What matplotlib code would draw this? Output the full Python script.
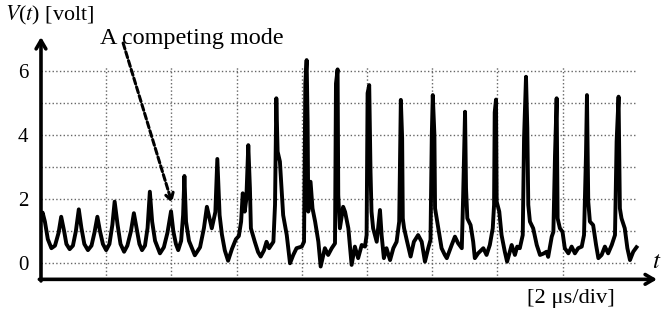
import matplotlib.pyplot as plt

plt.rcParams['font.family'] = ['Liberation Serif', 'DejaVu Serif']
plt.rcParams['mathtext.fontset'] = 'stix'

# time in microseconds (2 us per division), voltage in volts
t_us = [0.00, 0.05, 0.12, 0.21, 0.32, 0.43, 0.54, 0.62, 0.71, 0.78,
        0.88, 0.98, 1.07, 1.16, 1.24, 1.33, 1.44, 1.55, 1.64, 1.73,
        1.81, 1.90, 2.00, 2.10, 2.19, 2.26, 2.35, 2.44, 2.55, 2.65,
        2.76, 2.85, 2.95, 3.02, 3.10, 3.19, 3.27, 3.34, 3.41, 3.50,
        3.65, 3.77, 3.88, 3.99, 4.06, 4.14, 4.21, 4.30, 4.36, 4.40,
        4.45, 4.54, 4.72, 4.88, 5.00, 5.09, 5.24, 5.35, 5.41, 5.48,
        5.55, 5.64, 5.74, 5.86, 5.98, 6.07, 6.14, 6.19, 6.25, 6.30,
        6.36, 6.41, 6.44, 6.56, 6.66, 6.74, 6.84, 6.92, 7.00, 7.13,
        7.18, 7.22, 7.26, 7.33, 7.38, 7.43, 7.54, 7.64, 7.74, 7.84,
        8.00, 8.07, 8.11, 8.15, 8.18, 8.20, 8.27, 8.33, 8.41, 8.51,
        8.58, 8.71, 8.81, 8.92, 9.02, 9.05, 9.10, 9.12, 9.17, 9.27,
        9.33, 9.43, 9.53, 9.63, 9.73, 9.84, 9.94, 9.99, 10.02, 10.07,
        10.11, 10.14, 10.19, 10.30, 10.40, 10.45, 10.52, 10.60, 10.71, 10.81,
        10.91, 10.99, 11.02, 11.04, 11.08, 11.10, 11.14, 11.22, 11.34, 11.44,
        11.57, 11.68, 11.78, 11.88, 11.95, 11.99, 12.02, 12.07, 12.09, 12.19,
        12.29, 12.39, 12.45, 12.60, 12.70, 12.80, 12.91, 12.95, 13.01, 13.04,
        13.08, 13.18, 13.26, 13.31, 13.41, 13.57, 13.67, 13.77, 13.86, 13.90,
        13.92, 13.96, 13.98, 14.06, 14.13, 14.23, 14.30, 14.44, 14.54, 14.61,
        14.69, 14.78, 14.82, 14.88, 14.92, 14.95, 15.00, 15.10, 15.21, 15.31,
        15.41, 15.51, 15.56, 15.67, 15.72, 15.77, 15.82, 15.85, 15.92, 16.00,
        16.07, 16.18, 16.28, 16.38, 16.48, 16.59, 16.66, 16.72, 16.75, 16.79,
        16.84, 16.94, 17.03, 17.10, 17.20, 17.30, 17.40, 17.51, 17.61, 17.66,
        17.72, 17.76, 17.81, 17.91, 17.99, 18.07, 18.17, 18.27]

volt = [1.35, 1.58, 1.30, 0.75, 0.47, 0.55, 0.95, 1.45, 1.00, 0.60,
        0.44, 0.55, 1.00, 1.68, 1.10, 0.60, 0.41, 0.55, 0.95, 1.45,
        1.00, 0.60, 0.41, 0.60, 1.20, 1.92, 1.20, 0.60, 0.36, 0.55,
        1.00, 1.56, 1.00, 0.60, 0.41, 0.55, 1.10, 2.23, 1.30, 0.70,
        0.31, 0.50, 0.95, 1.62, 1.00, 0.60, 0.41, 0.70, 1.50, 2.72,
        1.30, 0.70, 0.25, 0.50, 1.10, 1.76, 1.09, 1.60, 3.25, 1.50,
        0.90, 0.40, 0.08, 0.45, 0.75, 0.85, 1.30, 2.18, 1.61, 2.00,
        3.68, 2.34, 1.09, 0.67, 0.35, 0.21, 0.40, 0.67, 0.47, 0.67,
        1.82, 5.14, 3.48, 3.17, 2.34, 1.50, 0.88, 0.00, 0.26, 0.47,
        0.52, 0.67, 5.60, 6.33, 4.41, 1.61, 2.54, 1.71, 1.30, 0.67,
        -0.10, 0.47, 0.26, 0.47, 0.62, 5.60, 6.04, 2.13, 1.09, 1.76,
        1.60, 1.09, -0.05, 0.52, 0.16, 0.57, 0.52, 0.88, 5.30, 5.55,
        2.85, 1.61, 1.09, 0.67, 1.66, 0.88, 0.16, 0.47, 0.10, 0.47,
        0.67, 1.30, 3.50, 5.09, 3.90, 1.40, 1.09, 0.73, 0.21, 0.67,
        0.88, 0.67, 0.05, 0.47, 0.73, 4.00, 5.24, 4.00, 1.71, 1.09,
        0.47, 0.26, 0.16, 0.57, 0.83, 0.62, 0.47, 2.02, 4.72, 2.34,
        1.40, 1.19, 0.67, 0.16, 0.31, 0.47, 0.26, 0.57, 1.09, 1.82,
        4.70, 5.10, 1.92, 1.61, 0.88, 0.36, 0.05, 0.57, 0.26, 0.52,
        0.47, 0.88, 3.89, 5.81, 4.21, 1.82, 1.30, 1.09, 0.57, 0.26,
        0.30, 0.36, 0.20, 0.83, 0.98, 3.37, 5.14, 1.40, 1.09, 0.98,
        0.47, 0.31, 0.52, 0.31, 0.47, 0.52, 0.88, 3.37, 5.24, 1.92,
        1.30, 1.19, 0.57, 0.16, 0.26, 0.52, 0.31, 0.57, 0.88, 3.79,
        5.19, 1.71, 1.40, 1.09, 0.47, 0.10, 0.36, 0.50]

y_grid = [0, 1, 2, 3, 4, 5, 6]
y_labels = ['0', '', '2', '', '4', '', '6']
x_grid = [2, 4, 6, 8, 10, 12, 14, 16]

fig = plt.figure(figsize=(6.61, 3.16), dpi=100)
ax = fig.add_axes([0.062, 0.116, 0.932, 0.767])
ax.set_xlim(0, 18.9)
ax.set_ylim(-0.5, 7.05)

# dotted grid
ax.hlines(y_grid, 0, 18.25, colors='#666666', linestyles=':', lw=1.0)
ax.vlines(x_grid, -0.5, 6.12, colors='#666666', linestyles=':', lw=1.0)

ax.plot(t_us, volt, color='black', lw=2.8, solid_joinstyle='round')

for s in ax.spines.values():
    s.set_visible(False)
ax.set_xticks([])
ax.set_yticks(y_grid)
ax.set_yticklabels(y_labels, fontsize=15)
ax.tick_params(axis='y', length=0, pad=9)

# axis arrows
ax.annotate('', xy=(0, 7.05), xytext=(0, -0.55),
            arrowprops=dict(arrowstyle='->,head_length=0.6,head_width=0.35', lw=2.6, color='black',
                            shrinkA=0, shrinkB=0))
ax.annotate('', xy=(18.9, -0.5), xytext=(-0.05, -0.5),
            arrowprops=dict(arrowstyle='->,head_length=0.6,head_width=0.35', lw=2.6, color='black',
                            shrinkA=0, shrinkB=0))

# competing mode annotation
ax.text(1.8, 7.0, 'A competing mode', fontsize=17.4, ha='left', va='center')
ax.annotate('', xy=(4.02, 1.88), xytext=(2.52, 6.86),
            arrowprops=dict(arrowstyle='->,head_length=0.5,head_width=0.3', lw=2.2, ls=(0, (2, 1)),
                            color='black', shrinkA=0, shrinkB=0))

fig.text(5 / 661, 1 - 15 / 316, '$V$($t$) [volt]', fontsize=15.8, ha='left', va='center')
fig.text(652 / 661, 1 - 262 / 316, '$t$', fontsize=18, ha='left', va='center')
fig.text(571 / 661, 1 - 298 / 316, '[2 \u03bcs/div]', fontsize=16.2, ha='center', va='center')

fig.savefig('out.png', dpi=100)
